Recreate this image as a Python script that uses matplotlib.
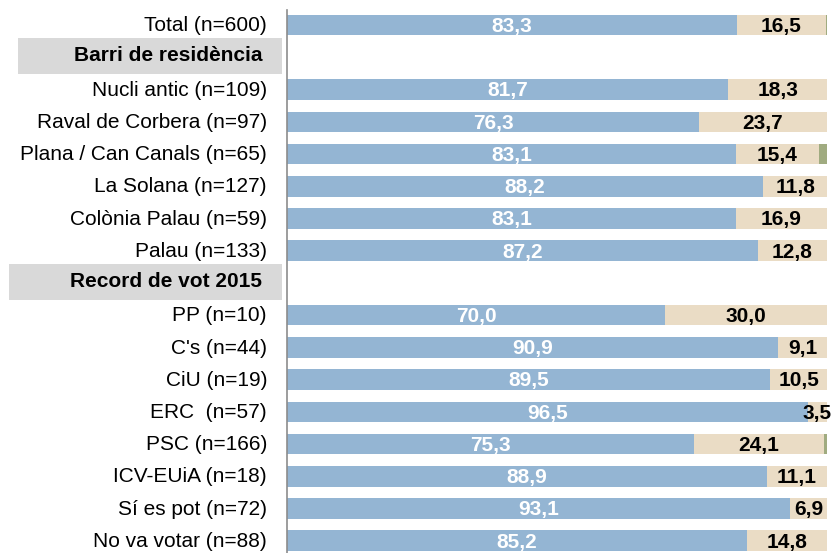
import matplotlib
matplotlib.use("Agg")
import matplotlib.pyplot as plt
from matplotlib.patches import Rectangle
import matplotlib.transforms as mtransforms

plt.rcParams["font.family"] = ["Liberation Sans", "DejaVu Sans"]

# rows from top to bottom; header rows have no values
labels = ["Total (n=600)", "Barri de residència", "Nucli antic (n=109)",
          "Raval de Corbera (n=97)", "Plana / Can Canals (n=65)", "La Solana (n=127)",
          "Colònia Palau (n=59)", "Palau (n=133)", "Record de vot 2015",
          "PP (n=10)", "C's (n=44)", "CiU (n=19)", "ERC  (n=57)", "PSC (n=166)",
          "ICV-EUiA (n=18)", "Sí es pot (n=72)", "No va votar (n=88)"]
is_header = [False, True, False, False, False, False, False, False, True,
             False, False, False, False, False, False, False, False]
blue = [83.3, None, 81.7, 76.3, 83.1, 88.2, 83.1, 87.2, None,
        70.0, 90.9, 89.5, 96.5, 75.3, 88.9, 93.1, 85.2]
beige = [16.5, None, 18.3, 23.7, 15.4, 11.8, 16.9, 12.8, None,
         30.0, 9.1, 10.5, 3.5, 24.1, 11.1, 6.9, 14.8]
green = [0.2, None, 0.0, 0.0, 1.5, 0.0, 0.0, 0.0, None,
         0.0, 0.0, 0.0, 0.0, 0.6, 0.0, 0.0, 0.0]

C_BLUE = "#94b5d3"
C_BEIGE = "#eadcc5"
C_GREEN = "#a0ab80"
FS = 15


def fmt(v):
    return f"{v:.1f}".replace(".", ",")


fig = plt.figure(figsize=(8.36, 5.53), dpi=100)
ax = fig.add_axes([287 / 836, 0, 540 / 836, 1 - 10 / 553])

for i, lab in enumerate(labels):
    if is_header[i]:
        continue
    b, t, g = blue[i], beige[i], green[i]
    ax.barh(i, b, height=0.64, color=C_BLUE, left=0)
    ax.barh(i, t, height=0.64, color=C_BEIGE, left=b)
    if g > 0:
        ax.barh(i, g, height=0.64, color=C_GREEN, left=b + t)
    ax.text(b / 2, i + 0.04, fmt(b), ha="center", va="center", color="white",
            fontsize=FS, fontweight="bold")
    ax.text(b + t / 2, i + 0.04, fmt(t), ha="center", va="center", color="black",
            fontsize=FS, fontweight="bold", clip_on=False)

ax.set_xlim(0, 100)
ax.set_ylim(16.38, -0.47)
ax.set_xticks([])
ax.set_yticks([])
for s in ["top", "right", "bottom"]:
    ax.spines[s].set_visible(False)
ax.spines["left"].set_color("#8c8c8c")
ax.spines["left"].set_linewidth(1.2)

# category labels and section headers left of the axis
trans = mtransforms.blended_transform_factory(fig.transFigure, ax.transData)
for i, lab in enumerate(labels):
    if is_header[i]:
        x0 = 18 / 836 if i == 1 else 9 / 836
        fig.patches.append(Rectangle((x0, i - 0.6), 282 / 836 - x0, 1.12,
                                     transform=trans, facecolor="#d9d9d9",
                                     edgecolor="none", zorder=-5))
        fig.text(262 / 836, 0, lab, transform=trans, ha="right", va="center",
                 fontsize=FS, fontweight="bold", color="black", zorder=5)
        fig.texts[-1].set_position((262 / 836, i - 0.05))
    else:
        ax.text(267 / 836, i + 0.02, lab, transform=trans, ha="right", va="center",
                fontsize=FS, color="black", clip_on=False)

fig.savefig("out.png", dpi=100)
